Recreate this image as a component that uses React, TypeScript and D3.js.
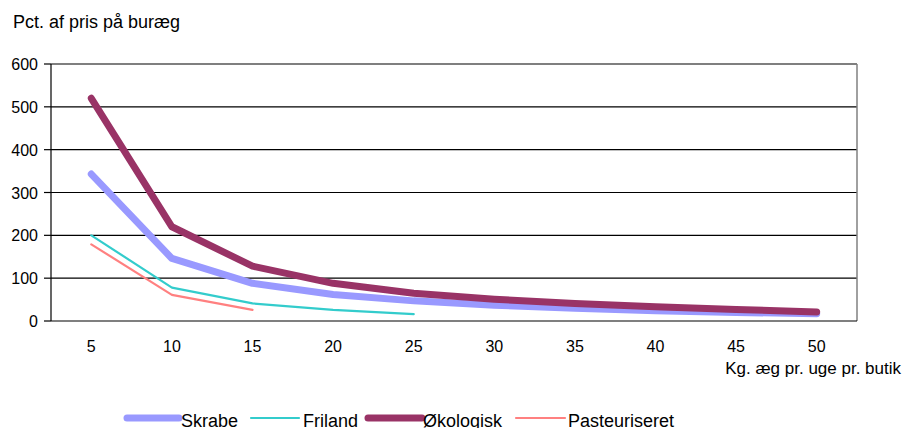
import React from "react";
import * as d3 from "d3";

const categories = ["5", "10", "15", "20", "25", "30", "35", "40", "45", "50"];
const skrabe = [343, 146, 88, 62, 47, 37, 30, 24, 20, 17];
const friland = [200, 78, 41, 26, 16];
const okologisk = [520, 220, 128, 88, 65, 51, 41, 33, 27, 21];
const pasteuriseret = [179, 61, 26];
const yTicks = [0, 100, 200, 300, 400, 500, 600];

const seriesList = [
  { name: "Skrabe", values: skrabe, color: "#9999FF", width: 7 },
  { name: "Friland", values: friland, color: "#33CCCC", width: 2.2 },
  { name: "Økologisk", values: okologisk, color: "#993366", width: 7 },
  { name: "Pasteuriseret", values: pasteuriseret, color: "#FF8080", width: 2.2 },
];

const legendPos = [
  { x1: 127, x2: 179, tx: 181 },
  { x1: 251, x2: 299, tx: 303 },
  { x1: 368, x2: 422, tx: 423 },
  { x1: 516, x2: 565, tx: 568 },
];

export default function App() {
  const W = 903, H = 428;
  const left = 51, right = 857, top = 64, bottom = 321;
  const x = d3.scaleBand<string>().domain(categories).range([left, right]);
  const y = d3.scaleLinear().domain([0, 600]).range([bottom, top]);
  const cx = (i: number) => (x(categories[i]) as number) + x.bandwidth() / 2;
  const line = d3
    .line<number>()
    .x((_, i) => cx(i))
    .y((v) => y(v));
  const font = "Arial, 'Liberation Sans', sans-serif";

  return (
    <svg width={W} height={H} style={{ position: "absolute", left: 0, top: 0, background: "#fff" }} fontFamily={font}>
      <rect x={0} y={0} width={W} height={H} fill="#fff" />
      <text x={13} y={28} fontSize={18} fill="#000">Pct. af pris på buræg</text>
      {yTicks.map((t) => (
        <g key={t}>
          {t > 0 && <line x1={left} x2={right} y1={y(t)} y2={y(t)} stroke="#000" strokeWidth={1.2} />}
          <line x1={left - 7} x2={left} y1={y(t)} y2={y(t)} stroke="#000" strokeWidth={1.2} />
          <text x={38} y={y(t) + 6} fontSize={16} textAnchor="end" fill="#000">{t}</text>
        </g>
      ))}
      <line x1={right} x2={right} y1={top} y2={bottom} stroke="#808080" strokeWidth={1.5} />
      <line x1={left} x2={left} y1={top} y2={bottom} stroke="#000" strokeWidth={1.2} />
      <line x1={left} x2={right} y1={bottom} y2={bottom} stroke="#000" strokeWidth={1.2} />
      {categories.map((c, i) => (
        <text key={c} x={cx(i)} y={352} fontSize={16} textAnchor="middle" fill="#000">{c}</text>
      ))}
      <text x={901} y={374} fontSize={17} textAnchor="end" fill="#000">Kg. æg pr. uge pr. butik</text>
      {seriesList.map((s) => (
        <path key={s.name} d={line(s.values) || ""} fill="none" stroke={s.color} strokeWidth={s.width} strokeLinecap="round" strokeLinejoin="round" />
      ))}
      {seriesList.map((s, i) => (
        <g key={s.name}>
          <line x1={legendPos[i].x1} x2={legendPos[i].x2} y1={418} y2={418} stroke={s.color} strokeWidth={s.width} strokeLinecap="round" />
          <text x={legendPos[i].tx} y={427} fontSize={18} fill="#000">{s.name}</text>
        </g>
      ))}
    </svg>
  );
}
